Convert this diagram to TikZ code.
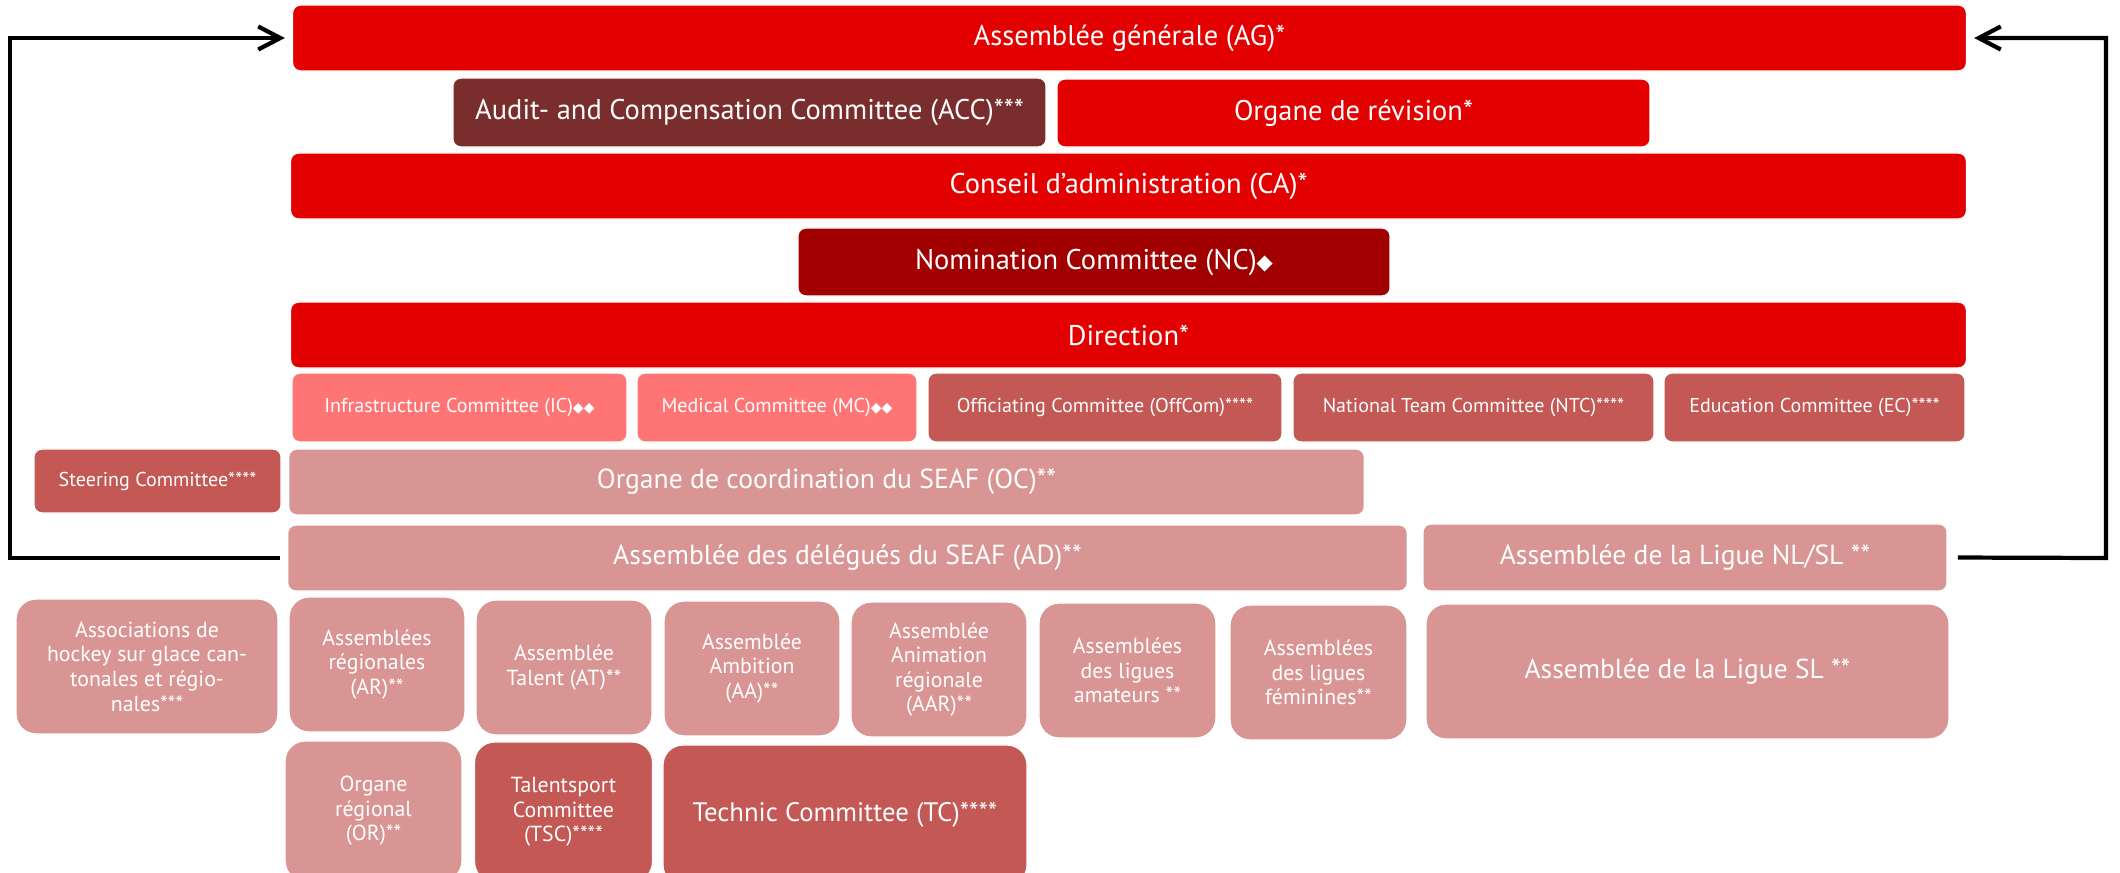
\documentclass[tikz,border=0pt]{standalone}
\usepackage{fontspec}
\setmainfont{PT Sans}
\newfontfamily\symfont{DejaVu Sans}
\usepackage{tikz}
\usetikzlibrary{arrows.meta, positioning}

\definecolor{agred}{RGB}{227,0,0}
\definecolor{accbrown}{RGB}{122,45,45}
\definecolor{ncred}{RGB}{160,0,0}
\definecolor{compink}{RGB}{255,117,117}
\definecolor{comrose}{RGB}{195,88,85}
\definecolor{asmrose}{RGB}{217,149,148}

\newcommand{\dmd}[1]{{\symfont\fontsize{#1}{#1}\selectfont ◆}}

\begin{document}
\begin{tikzpicture}[x=0.01cm, y=-0.01cm,
    org/.style={draw=white, line width=0.4pt, text=white, inner sep=0pt, align=center},
    dims/.style 2 args={minimum width=#1cm, minimum height=#2cm},
    top box/.style={org, rounded corners=0.08cm, font=\fontsize{8.1}{8.5}\selectfont},
    seaf box/.style={org, rounded corners=0.08cm, font=\fontsize{7.85}{8.5}\selectfont},
    com box/.style={org, rounded corners=0.08cm, font=\fontsize{5.7}{6.5}\selectfont},
    round box/.style={org, rounded corners=0.2cm, font=\fontsize{6.2}{7}\selectfont},
    loop arrow/.style={line width=1.2pt, -{Straight Barb[length=2.2mm,width=2.3mm]}}]
    \useasboundingbox (0,0) rectangle (2120,873);
    % top: AG down to Direction
    \node[top box, fill=agred, dims={16.73}{0.66}] (AG) at (1129.5,38) {Assemblée générale (AG)*};
    \node[top box, fill=accbrown, dims={5.93}{0.69}] (ACC) at (749.5,112.5) {Audit- and Compensation Committee (ACC)***};
    \node[top box, fill=agred, dims={5.93}{0.68}] (ORV) at (1353.5,113) {Organe de révision*};
    \node[top box, fill=agred, dims={16.75}{0.66}] (CA) at (1128.5,186) {Conseil d’administration (CA)*};
    \node[top box, fill=ncred, dims={5.92}{0.68}] (NC) at (1094,262) {Nomination Committee (NC)\dmd{6}};
    \node[top box, fill=agred, dims={16.75}{0.66}] (DIR) at (1128.5,335) {Direction*};
    
    % committees
    \node[com box, fill=compink, dims={3.35}{0.69}] (IC) at (459.5,407.5) {Infrastructure Committee (IC)\dmd{4}\dmd{4}};
    \node[com box, fill=compink, dims={2.80}{0.69}] (MC) at (777,407.5) {Medical Committee (MC)\dmd{4}\dmd{4}};
    \node[com box, fill=comrose, dims={3.54}{0.69}] (OffCom) at (1105,407.5) {Officiating Committee (OffCom)****};
    \node[com box, fill=comrose, dims={3.61}{0.69}] (NTC) at (1473.5,407.5) {National Team Committee (NTC)****};
    \node[com box, fill=comrose, dims={3.01}{0.69}] (EC) at (1814.5,407.5) {Education Committee (EC)****};
    \node[com box, fill=comrose, dims={2.47}{0.64}] (SC) at (157.5,481) {Steering Committee****};
    
    % SEAF
    \node[seaf box, fill=asmrose, dims={10.75}{0.66}] (OC) at (826.5,482) {Organe de coordination du SEAF (OC)**};
    \node[seaf box, fill=asmrose, dims={11.19}{0.66}] (AD) at (847.5,558) {Assemblée des délégués du SEAF (AD)**};
    \node[seaf box, fill=asmrose, dims={5.24}{0.67}] (NLSL) at (1685,557.5) {Assemblée de la Ligue NL/SL **};
    
    % assemblies
    \node[round box, fill=asmrose, dims={2.62}{1.35}] (Assoc) at (147,666.5) {Associations de\\hockey sur glace can-\\tonales et régio-\\nales***};
    \node[round box, fill=asmrose, dims={1.76}{1.35}] (AR) at (377,664.5) {Assemblées\\régionales\\(AR)**};
    \node[round box, fill=asmrose, dims={1.76}{1.35}] (AT) at (564,667.5) {Assemblée\\Talent (AT)**};
    \node[round box, fill=asmrose, dims={1.76}{1.35}] (AA) at (752,668.5) {Assemblée\\Ambition\\(AA)**};
    \node[round box, fill=asmrose, dims={1.76}{1.35}] (AAR) at (939,669.5) {Assemblée\\Animation\\régionale\\(AAR)**};
    \node[round box, fill=asmrose, dims={1.77}{1.35}] (ALA) at (1127.5,670.5) {Assemblées\\des ligues\\amateurs **};
    \node[round box, fill=asmrose, dims={1.77}{1.35}] (ALF) at (1318.5,672.5) {Assemblées\\des ligues\\féminines**};
    \node[round box, fill=asmrose, dims={5.23}{1.35}, font=\fontsize{7.8}{8.5}\selectfont] (SL) at (1687.5,671.5) {Assemblée de la Ligue SL **};
    
    \node[round box, fill=asmrose, dims={1.77}{1.40}] (ORG) at (373.5,811) {Organe\\régional\\(OR)**};
    \node[round box, fill=comrose, dims={1.78}{1.40}] (TSC) at (563.5,812) {Talentsport\\Committee\\(TSC)****};
    \node[round box, fill=comrose, dims={3.64}{1.40}, font=\fontsize{7.6}{8}\selectfont] (TC) at (845,815) {Technic Committee (TC)****};
    
    % loops back to the AG
    \coordinate (Lturn) at (10,558);
    \coordinate (Rturn) at (2106,558);
    \draw[loop arrow, shorten <=0.07cm, shorten >=0.07cm] (AD.west) -- (Lturn) |- (AG.west);
    \draw[loop arrow, shorten <=0.1cm, shorten >=0.07cm] (NLSL.east) -- (Rturn) |- (AG.east);
\end{tikzpicture}
\end{document}
